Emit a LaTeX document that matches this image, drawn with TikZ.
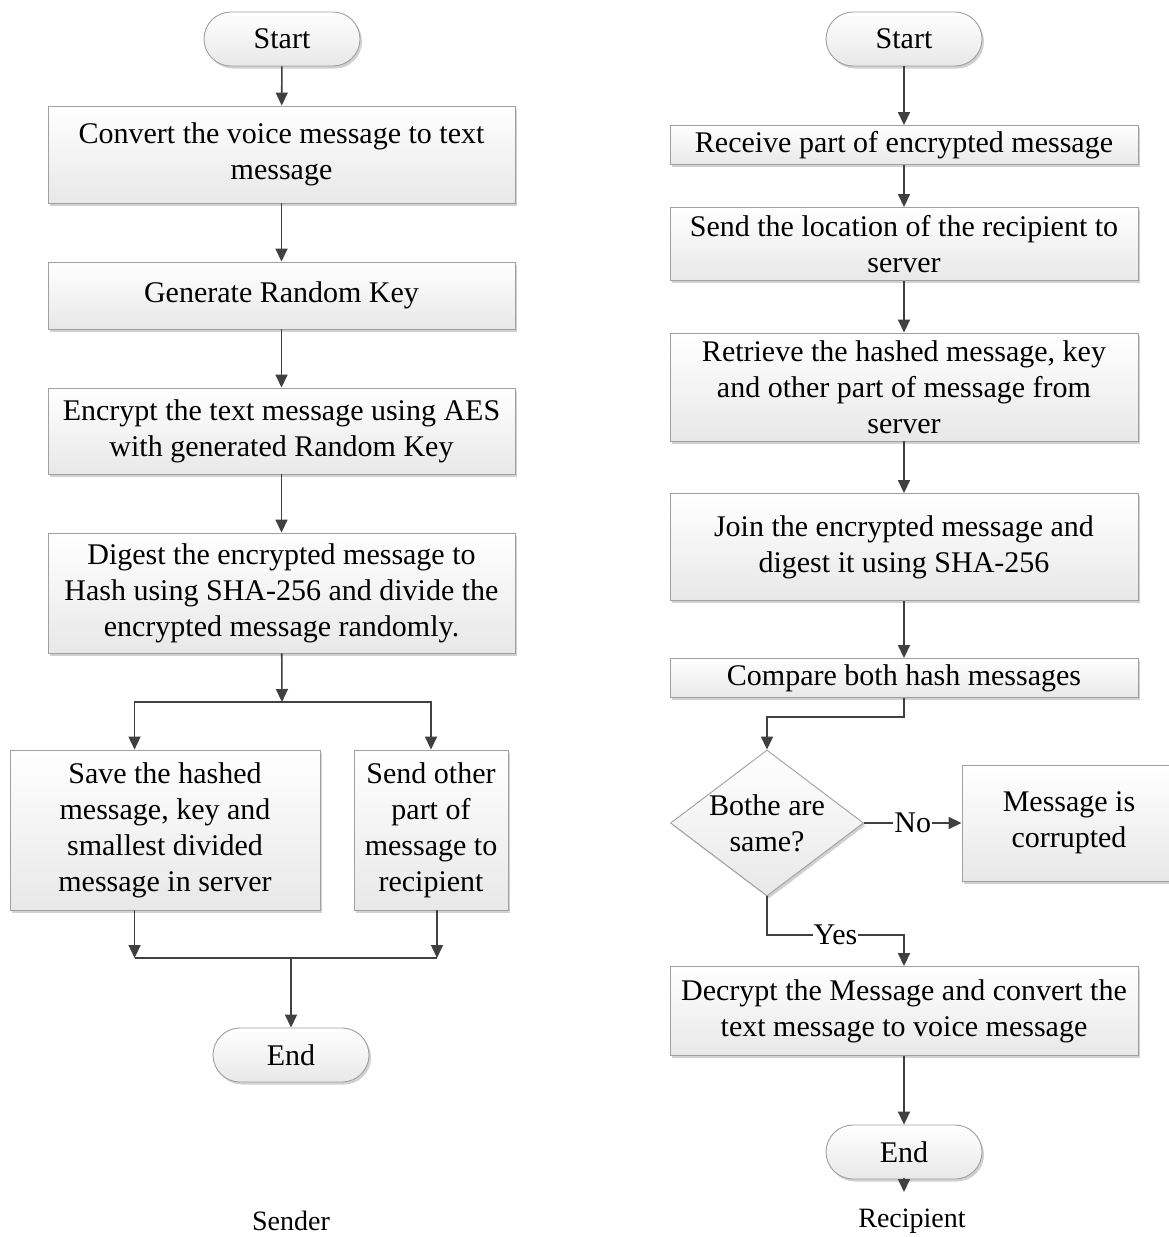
\documentclass[tikz,border=0pt]{standalone}
\usepackage{fontspec}
\setmainfont{Liberation Serif}
\usetikzlibrary{shapes.geometric,shadows,arrows.meta,calc}

\definecolor{linegray}{HTML}{404040}
\definecolor{framegray}{HTML}{A0A0A0}

\tikzset{
  base/.style={draw=framegray, line width=0.9pt, top color=white, bottom color=black!9,
    drop shadow={shadow xshift=2pt, shadow yshift=-2.5pt, opacity=0.18, fill=black},
    align=center, inner sep=0pt, font=\fontsize{30}{36}\selectfont},
  procbox/.style={base, rectangle},
  termbox/.style={base, rectangle, rounded corners=27pt, minimum width=156pt, minimum height=54pt},
  decbox/.style={base, diamond, minimum width=193pt, minimum height=146pt},
  arr/.style={draw=linegray, line width=1.6pt, -{Triangle[length=13pt,width=12pt]}},
  ln/.style={draw=linegray, line width=1.6pt},
  tag/.style={fill=white, inner sep=1pt, font=\fontsize{30}{36}\selectfont},
  caption/.style={font=\fontsize{28}{34}\selectfont}
}

\begin{document}
\begin{tikzpicture}[x=1pt, y=-1pt]
\useasboundingbox (0,0) rectangle (1169,1237);
\fill[white] (0,0) rectangle (1169,1237);

% ---------------- Sender ----------------
\node[termbox] (s1) at (282,39) {Start};
\node[procbox, minimum width=467pt, minimum height=97pt] (b1) at (281.5,154.5)
  {Convert the voice message to text\\message};
\node[procbox, minimum width=467pt, minimum height=67pt] (b2) at (281.5,295.5)
  {Generate Random Key};
\node[procbox, minimum width=467pt, minimum height=86pt] (b3) at (281.5,431)
  {Encrypt the text message using AES\\with generated Random Key};
\node[procbox, minimum width=467pt, minimum height=120pt] (b4) at (281.5,593)
  {Digest the encrypted message to\\Hash using SHA-256 and divide the\\encrypted message randomly.};
\node[procbox, minimum width=310pt, minimum height=160pt] (b5) at (165,830)
  {Save the hashed\\message, key and\\smallest divided\\message in server};
\node[procbox, minimum width=154pt, minimum height=160pt] (b6) at (431,830)
  {Send other\\part of\\message to\\recipient};
\node[termbox] (e1) at (291,1055) {End};
\node[caption] (cap1) at (291,1221) {Sender};

\coordinate (split) at (282,702);
\coordinate (join) at (291,958);

\draw[arr] (s1) -- (b1);
\draw[arr] (b1) -- (b2);
\draw[arr] (b2) -- (b3);
\draw[arr] (b3) -- (b4);
\draw[arr] (b4) -- (split);
\draw[arr] (split) -| ([xshift=125pt]b5.north west);
\draw[arr] (split) -| (b6.north);
\draw[arr] ([xshift=125pt]b5.south west) -- ([xshift=125pt]b5.south west |- join);
\draw[arr] ([xshift=6pt]b6.south) -- ([xshift=6pt]b6.south |- join);
\draw[ln] ([xshift=125pt]b5.south west |- join) -- ([xshift=6pt]b6.south |- join);
\draw[arr] (join) -- (e1);

% ---------------- Recipient ----------------
\node[termbox] (s2) at (904,39) {Start};
\node[procbox, minimum width=468pt, minimum height=39pt] (r1) at (904,145)
  {Receive part of encrypted message};
\node[procbox, minimum width=468pt, minimum height=73pt] (r2) at (904,244)
  {Send the location of the recipient to\\server};
\node[procbox, minimum width=468pt, minimum height=108pt] (r3) at (904,387)
  {Retrieve the hashed message, key\\and other part of message from\\server};
\node[procbox, minimum width=468pt, minimum height=107pt] (r4) at (904,547)
  {Join the encrypted message and\\digest it using SHA-256};
\node[procbox, minimum width=468pt, minimum height=39pt] (r5) at (904,678)
  {Compare both hash messages};
\node[decbox, label={[align=center, font=\fontsize{30}{36}\selectfont]center:Bothe are\\same?}] (d) at (767,823) {};
\node[procbox, minimum width=214pt, minimum height=116pt] (c) at (1069,823)
  {Message is\\corrupted};
\node[procbox, minimum width=468pt, minimum height=89pt] (r6) at (904,1011)
  {Decrypt the Message and convert the\\text message to voice message};
\node[termbox] (e2) at (904,1152) {End};
\node[caption] (cap2) at (912,1221) {Recipient};

\coordinate (bend) at (904,717);
\coordinate (yesrow) at (904,935);
\coordinate (tail) at (904,1192);

\draw[arr] (s2) -- (r1);
\draw[arr] (r1) -- (r2);
\draw[arr] (r2) -- (r3);
\draw[arr] (r3) -- (r4);
\draw[arr] (r4) -- (r5);
\draw[arr] (r5.south) -- (bend) -| (d.north);
\draw[arr] (d.east) -- node[tag] {No} (c.west);
\draw[arr] (d.south) |- node[tag, pos=0.75] {Yes} (yesrow) -- (r6.north);
\draw[arr] (r6) -- (e2);
\draw[arr] ([yshift=1pt]e2.south) -- (tail);
\end{tikzpicture}
\end{document}
